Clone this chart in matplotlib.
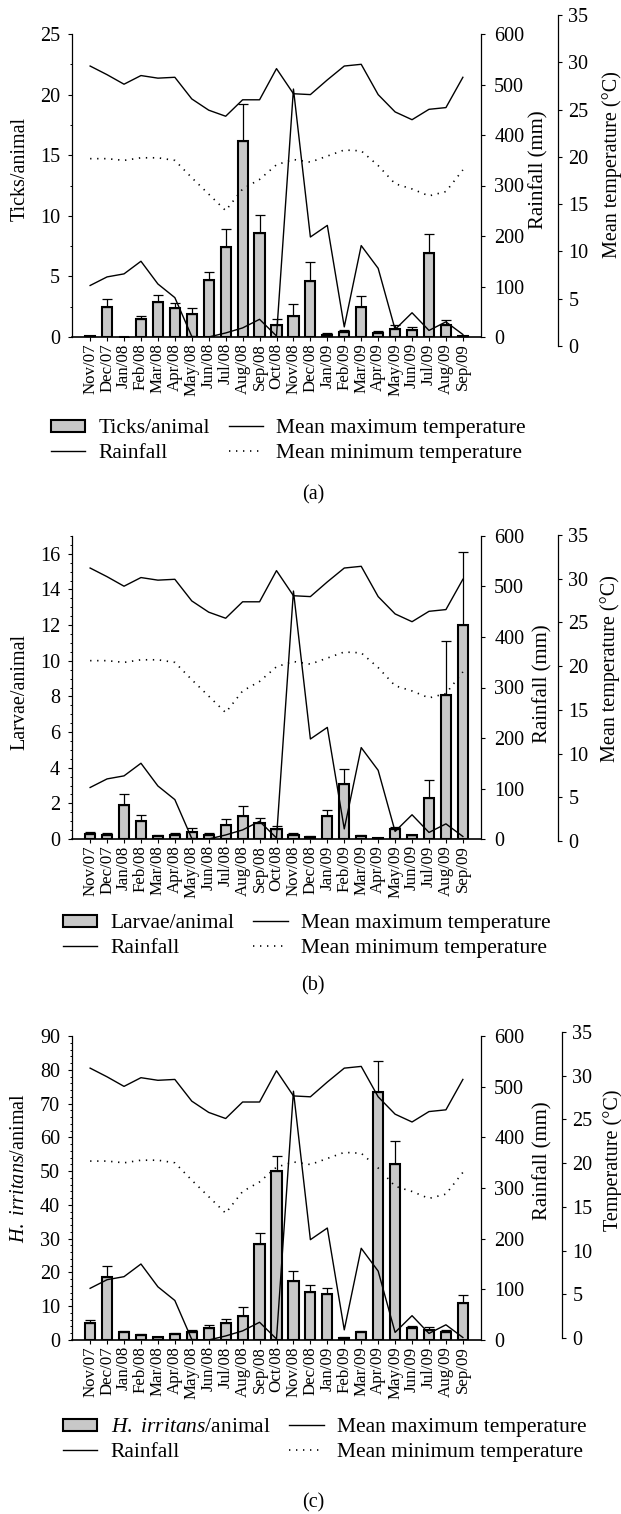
import numpy as np
import matplotlib
matplotlib.use('Agg')
import matplotlib.pyplot as plt
from matplotlib.patches import Patch
from matplotlib.lines import Line2D
from matplotlib.ticker import MultipleLocator

plt.rcParams['font.family'] = ['Liberation Serif', 'DejaVu Serif']
plt.rcParams['mathtext.fontset'] = 'custom'
plt.rcParams['mathtext.rm'] = 'Liberation Serif'
plt.rcParams['mathtext.it'] = 'Liberation Serif:italic'

months = ['Nov/07', 'Dec/07', 'Jan/08', 'Feb/08', 'Mar/08', 'Apr/08', 'May/08',
          'Jun/08', 'Jul/08', 'Aug/08', 'Sep/08', 'Oct/08', 'Nov/08', 'Dec/08',
          'Jan/09', 'Feb/09', 'Mar/09', 'Apr/09', 'May/09', 'Jun/09', 'Jul/09',
          'Aug/09', 'Sep/09']

rainfall = [102, 119, 125, 150, 105, 78, 1, 0, 8, 18, 35, 2, 491, 198, 221,
            20, 181, 136, 15, 48, 13, 30, 5]
tmax = [31.3, 30.3, 29.2, 30.2, 29.9, 30.0, 27.5, 26.2, 25.5, 27.4, 27.4, 31.0,
        28.1, 28.0, 29.7, 31.3, 31.5, 28.0, 26.0, 25.1, 26.3, 26.5, 30.0]
tmin = [20.6, 20.6, 20.4, 20.7, 20.7, 20.4, 18.4, 16.5, 14.6, 17.1, 18.2, 19.9,
        20.5, 20.2, 20.9, 21.6, 21.5, 19.8, 17.7, 17.1, 16.3, 16.8, 19.3]

ticks_mean = [0.08, 2.5, 0.0, 1.5, 2.9, 2.4, 1.9, 4.7, 7.4, 16.2, 8.6, 1.0,
              1.7, 4.6, 0.2, 0.4, 2.5, 0.3, 0.7, 0.6, 6.9, 1.0, 0.08]
ticks_upper = [0.1, 3.1, 0.0, 1.7, 3.5, 2.8, 2.4, 5.4, 8.9, 19.2, 10.1, 1.5,
               2.7, 6.2, 0.3, 0.6, 3.4, 0.5, 1.0, 0.8, 8.5, 1.4, 0.1]

larvae_mean = [0.3, 0.2, 1.9, 1.0, 0.15, 0.25, 0.4, 0.25, 0.8, 1.3, 0.9, 0.55,
               0.25, 0.1, 1.3, 3.1, 0.15, 0.03, 0.55, 0.2, 2.3, 8.1, 12.0]
larvae_upper = [0.4, 0.35, 2.5, 1.35, 0.2, 0.35, 0.6, 0.35, 1.1, 1.85, 1.2, 0.75,
                0.35, 0.15, 1.65, 3.9, 0.2, 0.05, 0.65, 0.25, 3.3, 11.1, 16.1]

hirr_mean = [4.9, 18.6, 2.3, 1.5, 0.8, 1.7, 2.3, 3.7, 4.9, 7.2, 28.4, 49.9,
             17.6, 14.3, 13.5, 0.7, 2.5, 73.3, 52.0, 3.5, 3.0, 2.4, 10.9]
hirr_upper = [5.9, 22.0, 2.6, 1.8, 1.0, 2.0, 3.1, 4.4, 6.1, 9.9, 31.6, 54.6,
              20.5, 16.3, 15.3, 0.9, 2.8, 82.6, 58.9, 4.1, 3.9, 3.0, 13.3]

W, H = 621, 1514
fig = plt.figure(figsize=(W / 100, H / 100), dpi=100)


def px_axes(l, t, r, b):
    return fig.add_axes([l / W, 1 - b / H, (r - l) / W, (b - t) / H])


panels = [
    dict(mean=ticks_mean, upper=ticks_upper, ymax=25, major=5, minor=2.5,
         ylabel='Ticks/animal', leglabel='Ticks/animal',
         top=34, bottom=337, ttop=15, tbot=346, tx=558,
         tlabel='Mean temperature (°C)',
         lab_y=169, rain_lab=(539, 170), temp_lab=(612, 165),
         leg=(51, 441), tag_y=495, tag='(a)'),
    dict(mean=larvae_mean, upper=larvae_upper, ymax=17, major=2, minor=0.5,
         ylabel='Larvae/animal', leglabel='Larvae/animal',
         top=536, bottom=839, ttop=535, tbot=841, tx=558,
         tlabel='Mean temperature (°C)',
         lab_y=692, rain_lab=(543, 684), temp_lab=(610, 669),
         leg=(63, 936), tag_y=986, tag='(b)'),
    dict(mean=hirr_mean, upper=hirr_upper, ymax=90, major=10, minor=2,
         ylabel=r'$\mathit{H.\ irritans}$/animal',
         leglabel=r'$\mathit{H.\ irritans}$/animal',
         top=1036, bottom=1340, ttop=1032, tbot=1338, tx=562,
         tlabel='Temperature (°C)',
         lab_y=1168, rain_lab=(543, 1161), temp_lab=(613, 1160),
         leg=(63, 1440), tag_y=1503, tag='(c)'),
]

x = np.arange(len(months))
BAR = '#c8c8c8'
DOT = (0, (0.8, 3.4))

for p in panels:
    ax = px_axes(72, p['top'], 481, p['bottom'])
    mean = np.array(p['mean'])
    upper = np.array(p['upper'])
    ax.bar(x, mean, width=0.6, color=BAR, edgecolor='black', linewidth=1.5,
           zorder=2)
    ax.errorbar(x, mean, yerr=[np.zeros_like(mean), upper - mean], fmt='none',
                ecolor='black', elinewidth=0.9, capsize=3.6, capthick=0.9,
                zorder=3)
    ax.set_xlim(-1.07, len(months) - 1 + 1.07)
    ax.set_ylim(0, p['ymax'])
    ax.yaxis.set_major_locator(MultipleLocator(p['major']))
    ax.yaxis.set_minor_locator(MultipleLocator(p['minor']))
    ax.set_xticks(x)
    ax.set_xticklabels(months, rotation=90, fontsize=12.2)
    ax.tick_params(axis='x', direction='out', length=3, width=0.8, pad=1.5)
    ax.tick_params(axis='y', which='major', direction='out', length=3,
                   width=0.8, labelsize=14.5, pad=5.5)
    ax.tick_params(axis='y', which='minor', direction='out', length=1.8,
                   width=0.7)
    for s in ['top', 'right']:
        ax.spines[s].set_visible(False)
    ax.spines['left'].set_linewidth(0.9)
    ax.spines['bottom'].set_linewidth(1.2)
    ax.patch.set_visible(False)

    # rainfall axis
    axr = ax.twinx()
    axr.set_ylim(0, 600)
    axr.plot(x, rainfall, color='black', lw=1.0, zorder=4)
    axr.yaxis.set_major_locator(MultipleLocator(100))
    axr.tick_params(axis='y', direction='out', length=3, width=0.8,
                    labelsize=14.5, pad=6.5)
    for s in ['top', 'left', 'bottom']:
        axr.spines[s].set_visible(False)
    axr.spines['right'].set_linewidth(0.9)

    # temperature lines (scale 0-35 over the plot area)
    axt = ax.twinx()
    axt.set_ylim(0, 35)
    axt.plot(x, tmax, color='black', lw=1.0, zorder=4)
    axt.plot(x, tmin, color='black', lw=1.2, linestyle=DOT, zorder=4)
    axt.axis('off')

    # visible temperature scale
    axv = px_axes(p['tx'] - 4, p['ttop'], p['tx'], p['tbot'])
    axv.set_ylim(0, 35)
    axv.yaxis.set_major_locator(MultipleLocator(5))
    axv.yaxis.tick_right()
    axv.set_xticks([])
    axv.tick_params(axis='y', direction='out', length=3, width=0.8,
                    labelsize=14.5, pad=4.5)
    for s in ['top', 'left', 'bottom']:
        axv.spines[s].set_visible(False)
    axv.spines['right'].set_linewidth(0.9)
    axv.patch.set_visible(False)

    # axis labels
    fig.text(20 / W, 1 - p['lab_y'] / H, p['ylabel'], rotation=90,
             ha='center', va='center', fontsize=14.5)
    fig.text(p['rain_lab'][0] / W, 1 - p['rain_lab'][1] / H, 'Rainfall (mm)',
             rotation=90, ha='center', va='center', fontsize=15)
    fig.text(p['temp_lab'][0] / W, 1 - p['temp_lab'][1] / H, p['tlabel'],
             rotation=90, ha='center', va='center', fontsize=14.5)

    # legend
    handles = [Patch(facecolor=BAR, edgecolor='black', linewidth=1.5),
               Line2D([], [], color='black', lw=1.0),
               Line2D([], [], color='black', lw=1.0),
               Line2D([], [], color='black', lw=1.2, linestyle=DOT)]
    labels = [p['leglabel'], 'Rainfall', 'Mean maximum temperature',
              'Mean minimum temperature']
    fig.legend(handles, labels, ncol=2, loc='center left',
               bbox_to_anchor=(p['leg'][0] / W, 1 - p['leg'][1] / H),
               frameon=False, fontsize=15.5, borderpad=0, borderaxespad=0,
               handlelength=1.6, handleheight=0.5, handletextpad=0.62,
               columnspacing=0.85, labelspacing=0.25)

    fig.text(313 / W, 1 - p['tag_y'] / H, p['tag'], ha='center', va='center',
             fontsize=14.5)

fig.savefig('out.png', dpi=100)
